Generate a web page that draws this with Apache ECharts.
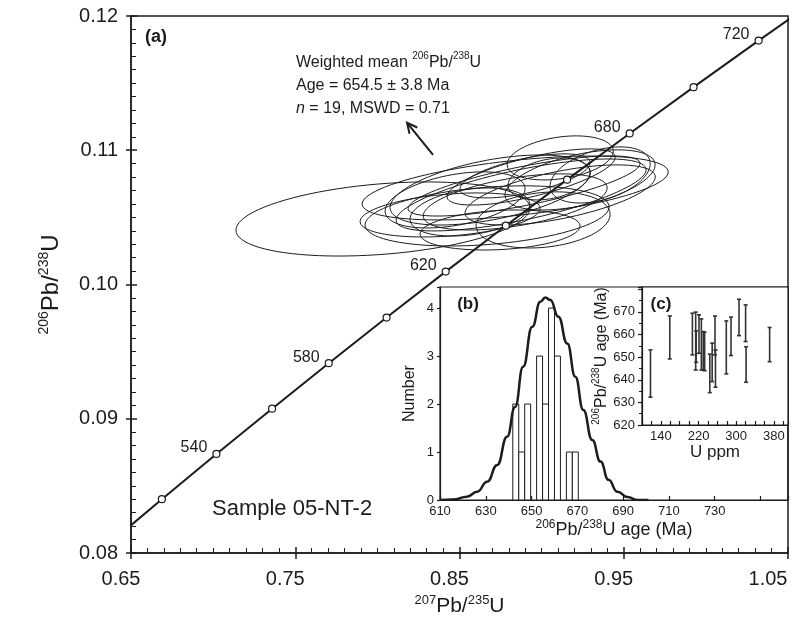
<!DOCTYPE html>
<html>
<head>
<meta charset="utf-8">
<script src="https://cdn.jsdelivr.net/npm/echarts@6/dist/echarts.min.js"></script>
<style>
  html, body { margin: 0; padding: 0; background: #fff; overflow: hidden; }
  #chart { width: 796px; height: 620px; }
</style>
</head>
<body>
<div id="chart"></div>
<script>
const FONT = "'Liberation Sans', Arial, sans-serif";
const INK = '#1c1c1c';

// concordia: age (Ma), 207Pb/235U, 206Pb/238U
const concAge = [500, 520, 540, 560, 580, 600, 620, 640, 660, 680, 700, 720, 740];
const concX = [0.6363, 0.6688, 0.7020, 0.7359, 0.7704, 0.8056, 0.8416, 0.8782, 0.9155, 0.9536, 0.9925, 1.0321, 1.0727];
const concY = [0.08065, 0.08401, 0.08738, 0.09075, 0.09414, 0.09754, 0.10096, 0.10438, 0.10781, 0.11125, 0.11470, 0.11817, 0.12164];
const concLabelled = [540, 580, 620, 680, 720];

// error ellipses: centre, half extent in x and y, correlation
const ellX = [0.8034, 0.8839, 0.8668, 0.8875, 0.8893, 0.8839, 0.8936, 0.8899, 0.9009, 0.9113, 0.9046, 0.8564, 0.8473, 0.8747, 0.9234, 0.9356, 0.8686, 0.8443, 0.9113];
const ellY = [0.10488, 0.10719, 0.10511, 0.10667, 0.10734, 0.10615, 0.10801, 0.10809, 0.10481, 0.10943, 0.10786, 0.10540, 0.10630, 0.10406, 0.10779, 0.10816, 0.10704, 0.10518, 0.10667];
const ellSX = [0.0895, 0.0932, 0.0743, 0.0761, 0.0706, 0.0560, 0.0512, 0.0396, 0.0408, 0.0323, 0.0250, 0.0365, 0.0426, 0.0487, 0.0457, 0.0305, 0.0609, 0.0548, 0.0579];
const ellSY = [0.00276, 0.00238, 0.00224, 0.00268, 0.00224, 0.00209, 0.00209, 0.00164, 0.00209, 0.00164, 0.00156, 0.00179, 0.00209, 0.00149, 0.00224, 0.00209, 0.00261, 0.00164, 0.00224];
const ellRho = [0.3, 0.5, 0.3, 0.7, 0.75, 0.5, 0.7, 0.6, 0.2, 0.3, 0.3, 0.3, 0.4, 0.2, 0.5, 0.4, 0.5, 0.3, 0.6];

// arrow under the weighted mean note (tail, head)
const arrowTail = [0.8339, 0.10965];
const arrowHead = [0.8181, 0.11204];

// (b) histogram + probability curve
const binStart = [641.8, 644.4, 647.0, 649.6, 652.2, 654.8, 657.4, 660.0, 662.6, 665.2, 667.8];
const binCount = [2, 1, 2, 0, 3, 2, 4, 3, 0, 1, 1];
const binWidth = 2.6;
const probAge = [610, 615.7, 621.8, 626.2, 630.6, 635.0, 639.3, 642.8, 646.3, 650.3, 653.8, 656.0, 658.2, 661.7, 665.6, 669.1, 672.6, 676.5, 680.1, 683.6, 687.5, 691.9, 696.3, 701];
const probVal = [0, 0.01, 0.07, 0.17, 0.38, 0.73, 1.32, 1.94, 2.78, 3.61, 4.13, 4.22, 4.17, 3.82, 3.26, 2.57, 1.875, 1.25, 0.80, 0.42, 0.17, 0.06, 0, 0];

// (c) U content vs age
const uPpm = [118, 159, 207, 214, 215, 221, 226, 230, 233, 244, 249, 255, 256, 279, 289, 306, 320, 321, 371];
const ageHi = [653.2, 668.2, 669.4, 669.9, 661.6, 668.7, 666.9, 661.3, 661.0, 651.3, 656.2, 668.2, 653.2, 666.0, 667.7, 675.6, 673.1, 654.6, 663.1];
const ageLo = [632.3, 649.2, 651.0, 644.3, 647.7, 651.7, 644.3, 644.3, 644.0, 634.3, 639.2, 651.0, 636.7, 642.6, 650.7, 659.5, 656.9, 638.9, 648.0];

const line = (w) => ({ color: INK, width: w });

function supRich(big, small) {
  return {
    m: { fontSize: big, lineHeight: big + 4, verticalAlign: 'middle', fontFamily: FONT, color: INK },
    s: { fontSize: small, lineHeight: small + 1, verticalAlign: 'top', fontFamily: FONT, color: INK }
  };
}

const chart = echarts.init(document.getElementById('chart'));

const option = {
  animation: false,
  backgroundColor: '#fff',
  grid: [
    { left: 131, top: 16, right: 8, bottom: 67, show: true, borderColor: INK, borderWidth: 1.5, containLabel: false, outerBoundsMode: 'none' },
    { left: 440, top: 287, right: 8, bottom: 120, show: true, borderColor: INK, borderWidth: 1.2, containLabel: false, outerBoundsMode: 'none' },
    { left: 642, top: 287, right: 8, bottom: 195, show: true, borderColor: INK, borderWidth: 1.2, backgroundColor: '#fff', containLabel: false, outerBoundsMode: 'none' }
  ],
  xAxis: [
    {
      gridIndex: 0, type: 'value', min: 0.65, max: 1.05, interval: 0.1, position: 'bottom',
      axisLine: { onZero: false, lineStyle: line(1.5) },
      axisTick: { inside: true, length: 6, lineStyle: line(1.5) },
      minorTick: { show: true, splitNumber: 10, length: 5, lineStyle: line(1) },
      splitLine: { show: false },
      axisLabel: {
        margin: 16,
        formatter: v => (v > 1.04 ? '{e|' : '{n|') + v.toFixed(2) + '}',
        rich: {
          n: { fontSize: 20, fontFamily: FONT, color: INK, padding: [0, 20, 0, 0] },
          e: { fontSize: 20, fontFamily: FONT, color: INK, padding: [0, 40, 0, 0] }
        }
      },
      name: '{s|207}{m|Pb/}{s|235}{m|U}', nameLocation: 'middle', nameGap: 40,
      nameTextStyle: { rich: supRich(21, 13) }
    },
    {
      gridIndex: 0, type: 'value', min: 0.65, max: 1.05, interval: 0.1, position: 'bottom',
      axisLine: { show: false }, axisLabel: { show: false }, splitLine: { show: false },
      axisTick: { inside: false, length: 6, lineStyle: line(1.5) }
    },
    {
      gridIndex: 1, type: 'value', min: 610, max: 762, interval: 20, position: 'bottom',
      axisLine: { onZero: false, lineStyle: line(1.2) },
      axisTick: { inside: true, length: 4, lineStyle: line(1.2) },
      splitLine: { show: false },
      axisLabel: {
        fontSize: 13, fontFamily: FONT, color: INK, margin: 5,
        formatter: v => ((v - 610) % 20 === 0 && v <= 730) ? String(v) : ''
      },
      name: '{s|206}{m|Pb/}{s|238}{m|U age (Ma)}', nameLocation: 'middle', nameGap: 19,
      nameTextStyle: { rich: supRich(18, 12) }
    },
    {
      gridIndex: 2, type: 'value', min: 100, max: 410, interval: 20, position: 'bottom',
      axisLine: { onZero: false, lineStyle: line(1.2) },
      axisTick: { inside: true, length: 4, lineStyle: line(1.2) },
      splitLine: { show: false },
      axisLabel: {
        fontSize: 13, fontFamily: FONT, color: INK, margin: 5,
        formatter: v => ([140, 220, 300, 380].includes(v) ? String(v) : '')
      },
      name: 'U ppm', nameLocation: 'middle', nameGap: 19,
      nameTextStyle: { fontSize: 17, fontFamily: FONT, color: INK }
    }
  ],
  yAxis: [
    {
      gridIndex: 0, type: 'value', min: 0.08, max: 0.12, interval: 0.01, position: 'left',
      axisLine: { onZero: false, lineStyle: line(1.5) },
      axisTick: { inside: true, length: 6, lineStyle: line(1.5) },
      minorTick: { show: true, splitNumber: 10, length: 5, lineStyle: line(1) },
      splitLine: { show: false },
      axisLabel: { fontSize: 20, fontFamily: FONT, color: INK, margin: 13, formatter: v => v.toFixed(2) },
      name: '{s|206}{m|Pb/}{s|238}{m|U}', nameLocation: 'middle', nameGap: 66, nameRotate: 90,
      nameTextStyle: { rich: supRich(24, 14) }
    },
    {
      gridIndex: 0, type: 'value', min: 0.08, max: 0.12, interval: 0.01, position: 'left',
      axisLine: { show: false }, axisLabel: { show: false }, splitLine: { show: false },
      axisTick: { inside: false, length: 5, lineStyle: line(1.5) }
    },
    {
      gridIndex: 1, type: 'value', min: 0, max: 4.44, interval: 1, position: 'left',
      axisLine: { onZero: false, lineStyle: line(1.2) },
      axisTick: { inside: false, length: 3, lineStyle: line(1.2) },
      splitLine: { show: false },
      axisLabel: { fontSize: 13, fontFamily: FONT, color: INK, margin: 6, formatter: v => Number.isInteger(v) ? String(v) : '' },
      name: 'Number', nameLocation: 'middle', nameGap: 22, nameRotate: 90,
      nameTextStyle: { fontSize: 16, fontFamily: FONT, color: INK }
    },
    {
      gridIndex: 2, type: 'value', min: 620, max: 681, interval: 10, position: 'left',
      axisLine: { onZero: false, lineStyle: line(1.2) },
      axisTick: { inside: false, length: 4, lineStyle: line(1.2) },
      minorTick: { show: true, splitNumber: 2, length: 3, lineStyle: line(1) },
      splitLine: { show: false },
      axisLabel: {
        fontSize: 13, fontFamily: FONT, color: INK, margin: 7,
        formatter: v => (v % 10 === 0 && v <= 670) ? String(v) : ''
      },
      name: '{s|206}{m|Pb/}{s|238}{m|U age (Ma)}', nameLocation: 'middle', nameGap: 26, nameRotate: 90,
      nameTextStyle: { rich: supRich(16, 10) }
    }
  ],
  graphic: [
    { type: 'text', x: 145, y: 37, style: { text: '(a)', font: `bold 18px ${FONT}`, fill: INK, verticalAlign: 'middle' } },
    { type: 'text', x: 468, y: 304, style: { text: '(b)', font: `bold 17px ${FONT}`, fill: INK, align: 'center', verticalAlign: 'middle' } },
    { type: 'text', x: 661, y: 304, style: { text: '(c)', font: `bold 17px ${FONT}`, fill: INK, align: 'center', verticalAlign: 'middle' } },
    { type: 'text', x: 212, y: 509, style: { text: 'Sample 05-NT-2', font: `22px ${FONT}`, fill: INK, verticalAlign: 'middle' } },
    {
      type: 'text', x: 296, y: 51,
      style: {
        text: '{m|Weighted mean }{s|206}{m|Pb/}{s|238}{m|U}\n{m|Age = 654.5 ± 3.8 Ma}\n{i|n}{m| = 19, MSWD = 0.71}',
        verticalAlign: 'top', fill: INK,
        rich: {
          m: { fontSize: 16, lineHeight: 23, verticalAlign: 'middle', fontFamily: FONT, color: INK },
          i: { fontSize: 16, lineHeight: 23, verticalAlign: 'middle', fontFamily: FONT, fontStyle: 'italic', color: INK },
          s: { fontSize: 10, lineHeight: 11, verticalAlign: 'top', fontFamily: FONT, color: INK }
        }
      }
    }
  ],
  series: [
    {
      type: 'custom', xAxisIndex: 0, yAxisIndex: 0, z: 2,
      data: ellX.map((x, i) => [x, ellY[i], ellSX[i], ellSY[i], ellRho[i]]),
      renderItem: (params, api) => {
        const cx = api.value(0), cy = api.value(1), sx = api.value(2), sy = api.value(3), r = api.value(4);
        const q = Math.sqrt(1 - r * r);
        const pts = [];
        for (let k = 0; k < 90; k++) {
          const t = k / 90 * Math.PI * 2;
          pts.push(api.coord([cx + sx * Math.cos(t), cy + sy * (r * Math.cos(t) + q * Math.sin(t))]));
        }
        return { type: 'polygon', shape: { points: pts }, style: { fill: 'none', stroke: INK, lineWidth: 1 } };
      }
    },
    {
      type: 'line', xAxisIndex: 0, yAxisIndex: 0, z: 3, clip: true,
      data: concX.map((x, i) => [x, concY[i]]),
      showSymbol: false, lineStyle: { color: INK, width: 2 }
    },
    {
      type: 'scatter', xAxisIndex: 0, yAxisIndex: 0, z: 4, clip: true,
      data: concX.map((x, i) => [x, concY[i], concAge[i]]),
      symbolSize: 7,
      itemStyle: { color: '#fff', borderColor: INK, borderWidth: 1.2, opacity: 1 },
      label: {
        show: true, position: 'left', distance: 5, offset: [0, -6], opacity: 1,
        fontSize: 16, fontFamily: FONT, color: INK,
        formatter: p => concLabelled.includes(p.value[2]) ? String(p.value[2]) : ''
      }
    },
    {
      type: 'custom', xAxisIndex: 0, yAxisIndex: 0, z: 4,
      data: [[arrowTail[0], arrowTail[1], arrowHead[0], arrowHead[1]]],
      renderItem: (params, api) => {
        const a = api.coord([api.value(0), api.value(1)]);
        const b = api.coord([api.value(2), api.value(3)]);
        const dx = b[0] - a[0], dy = b[1] - a[1], L = Math.hypot(dx, dy);
        const ux = dx / L, uy = dy / L;
        const w1 = [b[0] - ux * 10 - uy * 5, b[1] - uy * 10 + ux * 5];
        const w2 = [b[0] - ux * 10 + uy * 5, b[1] - uy * 10 - ux * 5];
        return {
          type: 'group', children: [
            { type: 'line', shape: { x1: a[0], y1: a[1], x2: b[0], y2: b[1] }, style: { stroke: INK, lineWidth: 2 } },
            { type: 'polyline', shape: { points: [w1, b, w2] }, style: { stroke: INK, lineWidth: 2, fill: 'none' } }
          ]
        };
      }
    },
    {
      type: 'custom', xAxisIndex: 2, yAxisIndex: 2, z: 2,
      data: binStart.map((s, i) => [s, binCount[i]]),
      renderItem: (params, api) => {
        if (!api.value(1)) return null;
        const p0 = api.coord([api.value(0), api.value(1)]);
        const p1 = api.coord([api.value(0) + binWidth, 0]);
        return {
          type: 'rect', shape: { x: p0[0], y: p0[1], width: p1[0] - p0[0], height: p1[1] - p0[1] },
          style: { fill: '#fff', stroke: INK, lineWidth: 1 }
        };
      }
    },
    {
      type: 'line', xAxisIndex: 2, yAxisIndex: 2, z: 3,
      data: probAge.map((a, i) => [a, probVal[i]]),
      smooth: true, smoothMonotone: 'x', showSymbol: false,
      lineStyle: { color: INK, width: 2.5 }
    },
    {
      type: 'custom', xAxisIndex: 3, yAxisIndex: 3, z: 3,
      data: uPpm.map((u, i) => [u, ageHi[i], ageLo[i]]),
      renderItem: (params, api) => {
        const t = api.coord([api.value(0), api.value(1)]);
        const b = api.coord([api.value(0), api.value(2)]);
        const st = { stroke: '#333', lineWidth: 1.6 };
        return {
          type: 'group', children: [
            { type: 'line', shape: { x1: t[0], y1: t[1], x2: b[0], y2: b[1] }, style: st },
            { type: 'line', shape: { x1: t[0] - 2, y1: t[1], x2: t[0] + 2, y2: t[1] }, style: st },
            { type: 'line', shape: { x1: b[0] - 2, y1: b[1], x2: b[0] + 2, y2: b[1] }, style: st }
          ]
        };
      }
    }
  ]
};

chart.setOption(option);
</script>
</body>
</html>
